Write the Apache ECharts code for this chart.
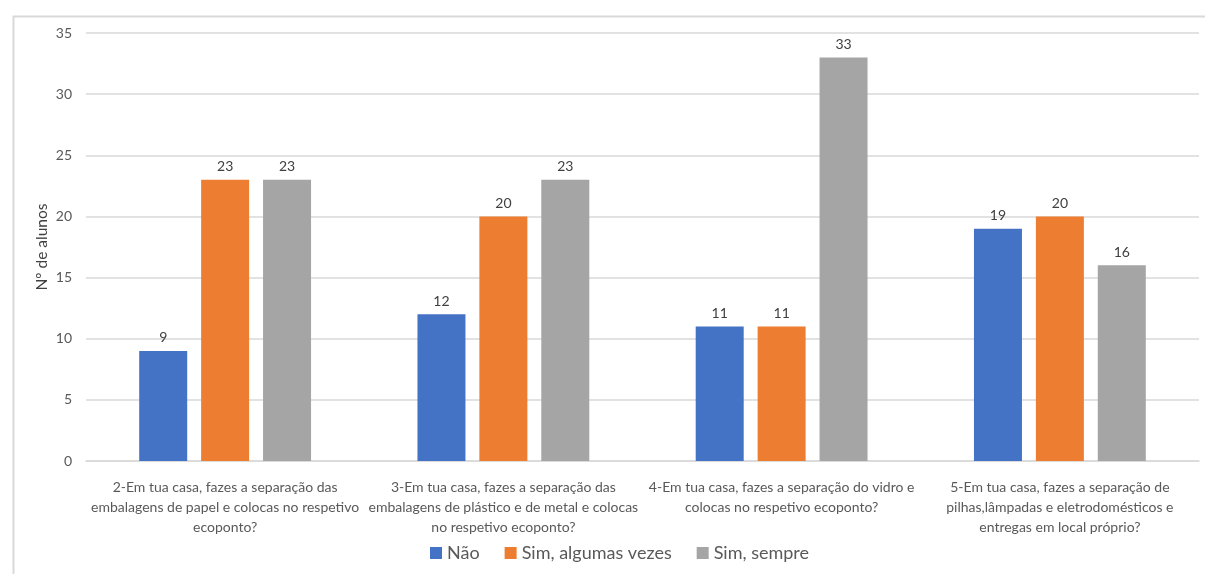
<!DOCTYPE html>
<html>
<head>
<meta charset="utf-8">
<style>
  html, body { margin: 0; padding: 0; background: #fff; }
  #chart { width: 1205px; height: 574px; }
</style>
<script src="https://cdn.jsdelivr.net/npm/echarts@6/dist/echarts.min.js"></script>
</head>
<body>
<div id="chart"></div>
<script>
// Survey questions (x-axis categories)
const categories = [
  '2-Em tua casa, fazes a separação das\nembalagens de papel e colocas no respetivo\necoponto?',
  '3-Em tua casa, fazes a separação das\nembalagens de plástico e de metal e colocas\nno respetivo ecoponto?',
  '4-Em tua casa, fazes a separação do vidro e\ncolocas no respetivo ecoponto?',
  '5-Em tua casa, fazes a separação de\npilhas,lâmpadas e eletrodomésticos e\nentregas em local próprio?'
];

// Answer counts per option
const nao = [9, 12, 11, 19];
const algumasVezes = [23, 20, 11, 20];
const sempre = [23, 23, 33, 16];

const seriesNames = ['Não', 'Sim, algumas vezes', 'Sim, sempre'];
const yTicks = { min: 0, max: 35, interval: 5 };

const font = 'Lato, "Open Sans", sans-serif';
const colors = ['#4472C4', '#ED7D31', '#A5A5A5'];

const chart = echarts.init(document.getElementById('chart'));

function barSeries(name, data, color) {
  return {
    name: name,
    type: 'bar',
    data: data,
    barWidth: 48,
    barGap: '29%',
    itemStyle: { color: color },
    label: {
      show: true,
      position: 'top',
      distance: 6,
      color: '#404040',
      fontFamily: font,
      fontSize: 14
    }
  };
}

chart.setOption({
  animation: false,
  color: colors,
  graphic: [{
    type: 'rect',
    left: 11,
    top: 14,
    shape: { width: 1220, height: 600 },
    style: { fill: 'none', stroke: '#d9d9d9', lineWidth: 2 },
    silent: true
  }],
  grid: { left: 86, right: 6, top: 33, bottom: 113 },
  legend: {
    bottom: 7,
    left: 425,
    itemWidth: 12,
    itemHeight: 12,
    itemGap: 25,
    icon: 'rect',
    textStyle: { color: '#595959', fontFamily: font, fontSize: 18 },
    data: seriesNames
  },
  xAxis: {
    type: 'category',
    data: categories,
    axisLine: { lineStyle: { color: '#d9d9d9', width: 1.5 } },
    axisTick: { show: false },
    axisLabel: {
      color: '#595959',
      fontFamily: font,
      fontSize: 14,
      lineHeight: 20,
      margin: 16,
      interval: 0,
      align: 'center'
    }
  },
  yAxis: {
    type: 'value',
    min: yTicks.min,
    max: yTicks.max,
    interval: yTicks.interval,
    name: 'Nº de alunos',
    nameLocation: 'middle',
    nameGap: 36,
    nameMoveOverlap: false,
    nameTextStyle: { color: '#404040', fontFamily: font, fontSize: 15.5 },
    axisLine: { show: false },
    axisTick: { show: false },
    axisLabel: { color: '#595959', fontFamily: font, fontSize: 14, margin: 14 },
    splitLine: { lineStyle: { color: '#d9d9d9', width: 1.5 } }
  },
  series: [
    barSeries(seriesNames[0], nao, colors[0]),
    barSeries(seriesNames[1], algumasVezes, colors[1]),
    barSeries(seriesNames[2], sempre, colors[2])
  ]
});
</script>
</body>
</html>
